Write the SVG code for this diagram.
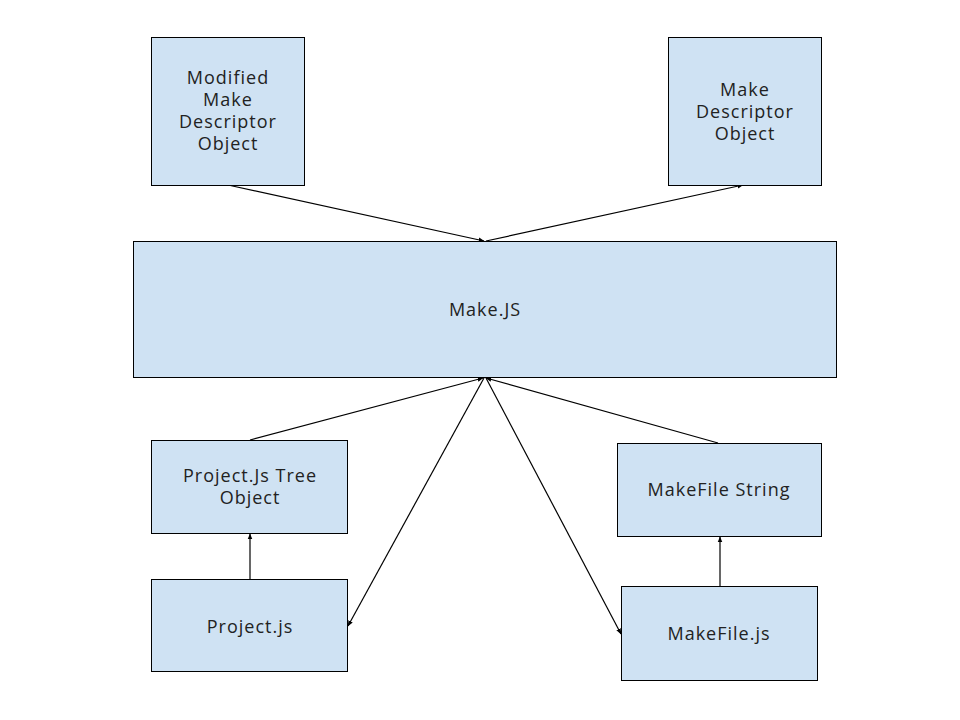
<svg xmlns="http://www.w3.org/2000/svg" width="960" height="720" viewBox="0 0 960 720">
<style>
.box{fill:#cfe2f3;stroke:#000;stroke-width:1}
.t{font-family:"Open Sans","Noto Sans",sans-serif;font-size:18px;letter-spacing:1px;fill:#222;text-anchor:middle}
.c{stroke:#000;stroke-width:1.2;fill:none;marker-end:url(#ah)}
</style>
<defs>
<marker id="ah" viewBox="0 0 10 10" refX="9" refY="5" markerWidth="6" markerHeight="6" markerUnits="userSpaceOnUse" orient="auto"><path d="M0,1 L10,5 L0,9 Z" fill="#000"/></marker>
</defs>
<rect width="960" height="720" fill="#fff"/>
<g id="connectors">
<line class="c" x1="228" y1="185" x2="484" y2="241"/>
<line class="c" x1="486" y1="241" x2="743" y2="185"/>
<line class="c" x1="250" y1="440" x2="483" y2="378"/>
<line class="c" x1="718" y1="443" x2="486" y2="378"/>
<line class="c" x1="484" y1="378" x2="348" y2="626"/>
<line class="c" x1="486" y1="378" x2="621" y2="634"/>
<line class="c" x1="250" y1="579" x2="250" y2="534"/>
<line class="c" x1="720" y1="586" x2="720" y2="537"/>
</g>
<g id="modified">
<rect class="box" x="151.5" y="37.5" width="153" height="148"/>
<text class="t" x="228" y="84">Modified</text>
<text class="t" x="228" y="106">Make</text>
<text class="t" x="228" y="128">Descriptor</text>
<text class="t" x="228" y="150">Object</text>
</g>
<g id="descriptor">
<rect class="box" x="668.5" y="37.5" width="153" height="148"/>
<text class="t" x="745" y="96">Make</text>
<text class="t" x="745" y="118">Descriptor</text>
<text class="t" x="745" y="140">Object</text>
</g>
<g id="makejs">
<rect class="box" x="133.5" y="241.5" width="703" height="136"/>
<text class="t" x="485" y="316">Make.JS</text>
</g>
<g id="tree">
<rect class="box" x="151.5" y="440.5" width="196" height="93"/>
<text class="t" x="250" y="482">Project.Js Tree</text>
<text class="t" x="250" y="504">Object</text>
</g>
<g id="mfstring">
<rect class="box" x="617.5" y="443.5" width="204" height="93"/>
<text class="t" x="719" y="496">MakeFile String</text>
</g>
<g id="projectjs">
<rect class="box" x="151.5" y="579.5" width="196" height="92"/>
<text class="t" x="250" y="633">Project.js</text>
</g>
<g id="makefilejs">
<rect class="box" x="621.5" y="586.5" width="196" height="94"/>
<text class="t" x="719" y="640">MakeFile.js</text>
</g>
</svg>
